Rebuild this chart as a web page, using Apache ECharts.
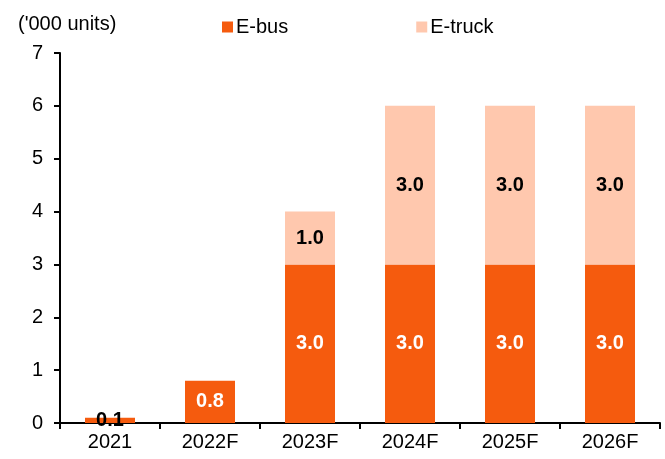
<!DOCTYPE html>
<html>
<head>
<meta charset="utf-8">
<script src="https://cdn.jsdelivr.net/npm/echarts@6/dist/echarts.min.js"></script>
<style>
  html, body { margin: 0; padding: 0; background: #fff; }
  #chart { width: 665px; height: 459px; }
</style>
</head>
<body>
<div id="chart"></div>
<script>
// data
var years = ['2021', '2022F', '2023F', '2024F', '2025F', '2026F'];
var eBus = [0.1, 0.8, 3.0, 3.0, 3.0, 3.0];
var eTruck = [null, null, 1.0, 3.0, 3.0, 3.0];
var unitLabel = "('000 units)";

var font = 'Liberation Sans, Arial, sans-serif';

var chart = echarts.init(document.getElementById('chart'));

var option = {
  animation: false,
  textStyle: { fontFamily: font },
  title: {
    text: unitLabel,
    left: 13,
    top: 9,
    textStyle: { fontSize: 20, fontWeight: 'normal', color: '#000', fontFamily: font }
  },
  legend: {
    left: 217,
    top: 12,
    itemWidth: 11,
    itemHeight: 11,
    itemGap: 128,
    icon: 'rect',
    textStyle: { fontSize: 20, color: '#000', fontFamily: font, padding: [0, 0, 0, -2] },
    data: ['E-bus', 'E-truck']
  },
  grid: { left: 60, right: 5, top: 53, bottom: 36 },
  xAxis: {
    type: 'category',
    data: years,
    axisLine: { lineStyle: { color: '#000', width: 2 } },
    axisTick: { show: true, length: 6, lineStyle: { color: '#000', width: 2 } },
    axisLabel: { fontSize: 20, color: '#000', margin: 9, fontFamily: font }
  },
  yAxis: {
    type: 'value',
    min: 0,
    max: 7,
    interval: 1,
    splitLine: { show: false },
    axisLine: { show: true, lineStyle: { color: '#000', width: 2 } },
    axisTick: { show: true, length: 6, lineStyle: { color: '#000', width: 2 } },
    axisLabel: { fontSize: 20, color: '#000', margin: 17, fontFamily: font }
  },
  series: [
    {
      name: 'E-bus',
      type: 'bar',
      stack: 'total',
      barWidth: '50%',
      // the tiny 2021 bar has its label drawn in black
      data: eBus.map(function (v, i) {
        if (i === 0) return { value: v, label: { color: '#000' } };
        return v;
      }),
      itemStyle: { color: '#F55B0E' },
      label: {
        show: true,
        position: 'inside',
        formatter: function (p) { return Number(p.value).toFixed(1); },
        fontSize: 20,
        fontWeight: 'bold',
        fontFamily: font,
        color: '#fff'
      },
      z: 2
    },
    {
      name: 'E-truck',
      type: 'bar',
      stack: 'total',
      barWidth: '50%',
      data: eTruck,
      itemStyle: { color: '#FFC8AE' },
      label: {
        show: true,
        position: 'inside',
        formatter: function (p) { return p.value == null ? '' : Number(p.value).toFixed(1); },
        fontSize: 20,
        fontWeight: 'bold',
        fontFamily: font,
        color: '#000'
      }
    }
  ]
};

chart.setOption(option);
</script>
</body>
</html>
